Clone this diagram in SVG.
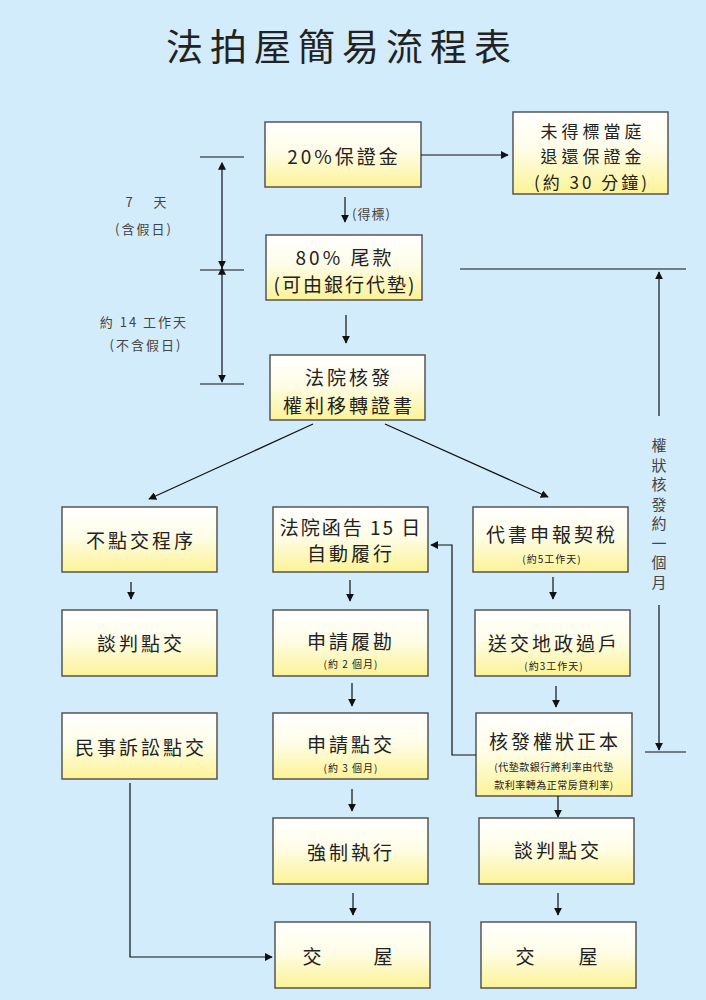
<svg xmlns="http://www.w3.org/2000/svg" width="706" height="1000" viewBox="0 0 706 1000">
<defs>
<linearGradient id="g" x1="0" y1="0" x2="0" y2="1">
<stop offset="0" stop-color="#ffffff"/>
<stop offset="0.45" stop-color="#fffde8"/>
<stop offset="1" stop-color="#fcf396"/>
</linearGradient>
<marker id="ah" viewBox="0 0 10 10" refX="9" refY="5" markerWidth="8" markerHeight="8" markerUnits="userSpaceOnUse" orient="auto">
<path d="M0,0 L10,5 L0,10 z" fill="#111"/>
</marker>
<marker id="ahs" viewBox="0 0 10 10" refX="1" refY="5" markerWidth="8" markerHeight="8" markerUnits="userSpaceOnUse" orient="auto-start-reverse">
<path d="M0,0 L10,5 L0,10 z" fill="#111"/>
</marker>
</defs>
<style>
.box{fill:url(#g);stroke:#555;stroke-width:1.5}
.t{font-family:"Noto Sans CJK TC","Noto Sans CJK SC",sans-serif;fill:#222;text-anchor:middle;dominant-baseline:central}
.m{font-size:19px;letter-spacing:3px}
.s{font-size:10px;letter-spacing:1px}
.lbl{font-family:"Noto Sans CJK TC","Noto Sans CJK SC",sans-serif;fill:#444;font-size:13px;text-anchor:middle;dominant-baseline:central;letter-spacing:2px}
.ln{stroke:#111;stroke-width:1.2;fill:none}
.ar{stroke:#111;stroke-width:1.2;fill:none;marker-end:url(#ah)}
</style>
<rect x="0" y="0" width="706" height="1000" fill="#d3ecfc"/>
<text class="t" x="342" y="45" style="font-size:37px;letter-spacing:7px">法拍屋簡易流程表</text>

<g id="A"><rect class="box" x="265" y="122" width="156" height="65"/><text class="t m" x="344" y="155">20%保證金</text></g>
<g id="B"><rect class="box" x="513" y="112" width="155" height="82"/>
<text class="t" x="593" y="130" style="font-size:17px;letter-spacing:4px">未得標當庭</text><text class="t" x="593" y="155.5" style="font-size:17px;letter-spacing:4px">退還保證金</text><text class="t" x="592" y="181" style="font-size:17px;letter-spacing:3px">(約 30 分鐘)</text></g>
<g id="C"><rect class="box" x="266" y="235" width="156" height="65"/>
<text class="t m" x="345" y="256">80% 尾款</text><text class="t m" x="345" y="283" style="letter-spacing:2px">(可由銀行代墊)</text></g>
<g id="D"><rect class="box" x="270" y="355" width="155" height="65"/>
<text class="t m" x="349" y="376">法院核發</text><text class="t m" x="349" y="404">權利移轉證書</text></g>

<g id="E"><rect class="box" x="62" y="507" width="155" height="65"/><text class="t m" x="141" y="539">不點交程序</text></g>
<g id="F"><rect class="box" x="273" y="507" width="155" height="65"/>
<text class="t m" x="351" y="526" style="letter-spacing:2px">法院函告 15 日</text><text class="t m" x="351" y="552">自動履行</text></g>
<g id="G"><rect class="box" x="473" y="507" width="155" height="65"/>
<text class="t m" x="552" y="533">代書申報契稅</text><text class="t s" x="552" y="558">(約5工作天)</text></g>

<g id="H"><rect class="box" x="62" y="610" width="155" height="66"/><text class="t m" x="141" y="642">談判點交</text></g>
<g id="I"><rect class="box" x="273" y="610" width="155" height="66"/>
<text class="t m" x="351" y="640">申請履勘</text><text class="t s" x="351" y="663">(約 2 個月)</text></g>
<g id="J"><rect class="box" x="475" y="610" width="155" height="66"/>
<text class="t m" x="554" y="642">送交地政過戶</text><text class="t s" x="554" y="665">(約3工作天)</text></g>

<g id="K"><rect class="box" x="62" y="713" width="155" height="66"/><text class="t m" x="141" y="746">民事訴訟點交</text></g>
<g id="L"><rect class="box" x="273" y="713" width="155" height="66"/>
<text class="t m" x="351" y="743">申請點交</text><text class="t s" x="351" y="767">(約 3 個月)</text></g>
<g id="M"><rect class="box" x="476" y="713" width="156" height="83"/>
<text class="t m" x="555" y="740">核發權狀正本</text>
<text class="t s" x="554" y="766" style="letter-spacing:0.5px">(代墊款銀行將利率由代墊</text>
<text class="t s" x="554" y="784" style="letter-spacing:0.5px">款利率轉為正常房貸利率)</text></g>

<g id="N"><rect class="box" x="273" y="818" width="155" height="66"/><text class="t m" x="351" y="851">強制執行</text></g>
<g id="O"><rect class="box" x="479" y="818" width="155" height="66"/><text class="t m" x="558" y="849">談判點交</text></g>

<g id="P"><rect class="box" x="275" y="922" width="155" height="66"/><text class="t" x="312" y="955" style="font-size:19px">交</text><text class="t" x="383" y="955" style="font-size:19px">屋</text></g>
<g id="Q"><rect class="box" x="481" y="922" width="155" height="66"/><text class="t" x="525" y="955" style="font-size:19px">交</text><text class="t" x="588" y="955" style="font-size:19px">屋</text></g>

<g id="labels">
<text class="lbl" x="130" y="201">7</text><text class="lbl" x="161" y="201">天</text>
<text class="lbl" x="144" y="228">(含假日)</text>
<text class="lbl" x="144" y="321">約 14 工作天</text>
<text class="lbl" x="146" y="344">(不含假日)</text>
<text class="t" x="352" y="213" style="font-size:13px;text-anchor:start;fill:#444;letter-spacing:1px">(得標)</text>
<text class="lbl" x="659" y="444" style="font-size:15px;letter-spacing:0">權<tspan x="659" dy="19.5">狀</tspan><tspan x="659" dy="19.5">核</tspan><tspan x="659" dy="19.5">發</tspan><tspan x="659" dy="19.5">約</tspan><tspan x="659" dy="19.5">一</tspan><tspan x="659" dy="19.5">個</tspan><tspan x="659" dy="19.5">月</tspan></text>
</g>

<g id="connectors">
<line class="ar" x1="421" y1="155" x2="508" y2="155"/>
<line class="ar" x1="345" y1="197" x2="345" y2="222"/>
<line class="ar" x1="346" y1="315" x2="346" y2="343"/>
<line class="ar" x1="313" y1="424" x2="149" y2="499"/>
<line class="ar" x1="385" y1="424" x2="548" y2="497"/>
<line class="ar" x1="131" y1="582" x2="131" y2="599"/>
<line class="ar" x1="350" y1="580" x2="350" y2="601"/>
<line class="ar" x1="553" y1="577" x2="553" y2="599"/>
<line class="ar" x1="352" y1="683" x2="352" y2="706"/>
<line class="ar" x1="556" y1="686" x2="556" y2="707"/>
<line class="ar" x1="352" y1="789" x2="352" y2="811"/>
<line class="ar" x1="558" y1="796" x2="558" y2="817"/>
<line class="ar" x1="353" y1="893" x2="353" y2="915"/>
<line class="ar" x1="558" y1="893" x2="558" y2="915"/>
<polyline class="ar" points="130,783 130,957 272,957"/>
<polyline class="ar" points="476,755 452,755 452,545 431,545"/>
<line class="ln" x1="200" y1="157" x2="244" y2="157"/>
<line class="ln" x1="200" y1="270" x2="244" y2="270"/>
<line class="ln" x1="200" y1="384" x2="244" y2="384"/>
<line class="ar" x1="222" y1="169" x2="222" y2="268" style="marker-start:url(#ahs)"/>
<line class="ar" x1="222" y1="274" x2="222" y2="382" style="marker-start:url(#ahs)"/>
<line class="ln" x1="460" y1="269" x2="686" y2="269"/>
<line class="ar" x1="659" y1="416" x2="659" y2="272"/>
<line class="ar" x1="659" y1="605" x2="659" y2="750"/>
<line class="ln" x1="645" y1="752" x2="686" y2="752"/>
</g>
</svg>
